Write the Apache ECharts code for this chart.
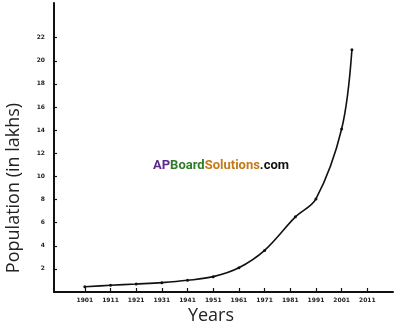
<!DOCTYPE html>
<html>
<head>
<meta charset="utf-8">
<script src="https://cdn.jsdelivr.net/npm/echarts@6/dist/echarts.min.js"></script>
<style>
html,body{margin:0;padding:0;background:#fff;}
#c{width:405px;height:327px;}
</style>
</head>
<body>
<div id="c"></div>
<script>
// Data
var years = [1901, 1911, 1921, 1931, 1941, 1951, 1961, 1971, 1983, 1991, 2001, 2005];
var population = [0.46, 0.58, 0.69, 0.81, 1.01, 1.33, 2.1, 3.6, 6.5, 8.05, 14.1, 20.95];
var xTicks = [1901, 1911, 1921, 1931, 1941, 1951, 1961, 1971, 1981, 1991, 2001, 2011];
var yTicks = [2, 4, 6, 8, 10, 12, 14, 16, 18, 20, 22];

var chart = echarts.init(document.getElementById('c'));
var pts = years.map(function (y, i) { return [y, population[i]]; });
chart.setOption({
  animation: false,
  backgroundColor: '#ffffff',
  grid: { left: 54, right: 12, top: 3, bottom: 35 },
  xAxis: {
    type: 'value', min: 1889, max: 2021,
    axisLine: { show: true, lineStyle: { color: '#111', width: 2 } },
    axisTick: { show: true, customValues: xTicks, length: -4, lineStyle: { color: '#111', width: 1.2 } },
    axisLabel: { customValues: xTicks, formatter: function (v) { return String(v); }, fontSize: 6, color: '#222', margin: 5, fontWeight: 'bold', fontFamily: 'DejaVu Sans' },
    splitLine: { show: false }
  },
  yAxis: {
    type: 'value', min: 0, max: 25,
    axisLine: { show: true, lineStyle: { color: '#111', width: 2 } },
    axisTick: { show: true, customValues: yTicks, length: -3, lineStyle: { color: '#111', width: 1.2 } },
    axisLabel: { customValues: yTicks, fontSize: 6, color: '#222', margin: 9, fontWeight: 'bold', fontFamily: 'DejaVu Sans' },
    splitLine: { show: false }
  },
  graphic: [{
    type: 'text', x: 14, y: 188, rotation: Math.PI / 2,
    style: { text: 'Population (in lakhs)', fontFamily: 'Open Sans', fontSize: 18, fill: '#222', align: 'center', verticalAlign: 'middle' }
  }, {
    type: 'text', x: 211, y: 316,
    style: { text: 'Years', fontFamily: 'Open Sans', fontSize: 18, fill: '#222', align: 'center', verticalAlign: 'middle' }
  }, {
    type: 'text', x: 153, y: 166,
    style: {
      text: '{a|AP}{b|Board}{c|Solutions}{d|.com}', verticalAlign: 'middle',
      rich: {
        a: { fill: '#5a2a8c', fontSize: 13, fontWeight: 'bold', fontFamily: 'Roboto' },
        b: { fill: '#2f7d2a', fontSize: 13, fontWeight: 'bold', fontFamily: 'Roboto' },
        c: { fill: '#c27a1a', fontSize: 13, fontWeight: 'bold', fontFamily: 'Roboto' },
        d: { fill: '#111111', fontSize: 13, fontWeight: 'bold', fontFamily: 'Roboto' }
      }
    }
  }],
  series: [{
    type: 'line', data: pts, smooth: 0.35,
    symbol: 'circle', symbolSize: 3,
    itemStyle: { color: '#111' },
    lineStyle: { color: '#111', width: 1.6 }
  }]
});
</script>
</body>
</html>
